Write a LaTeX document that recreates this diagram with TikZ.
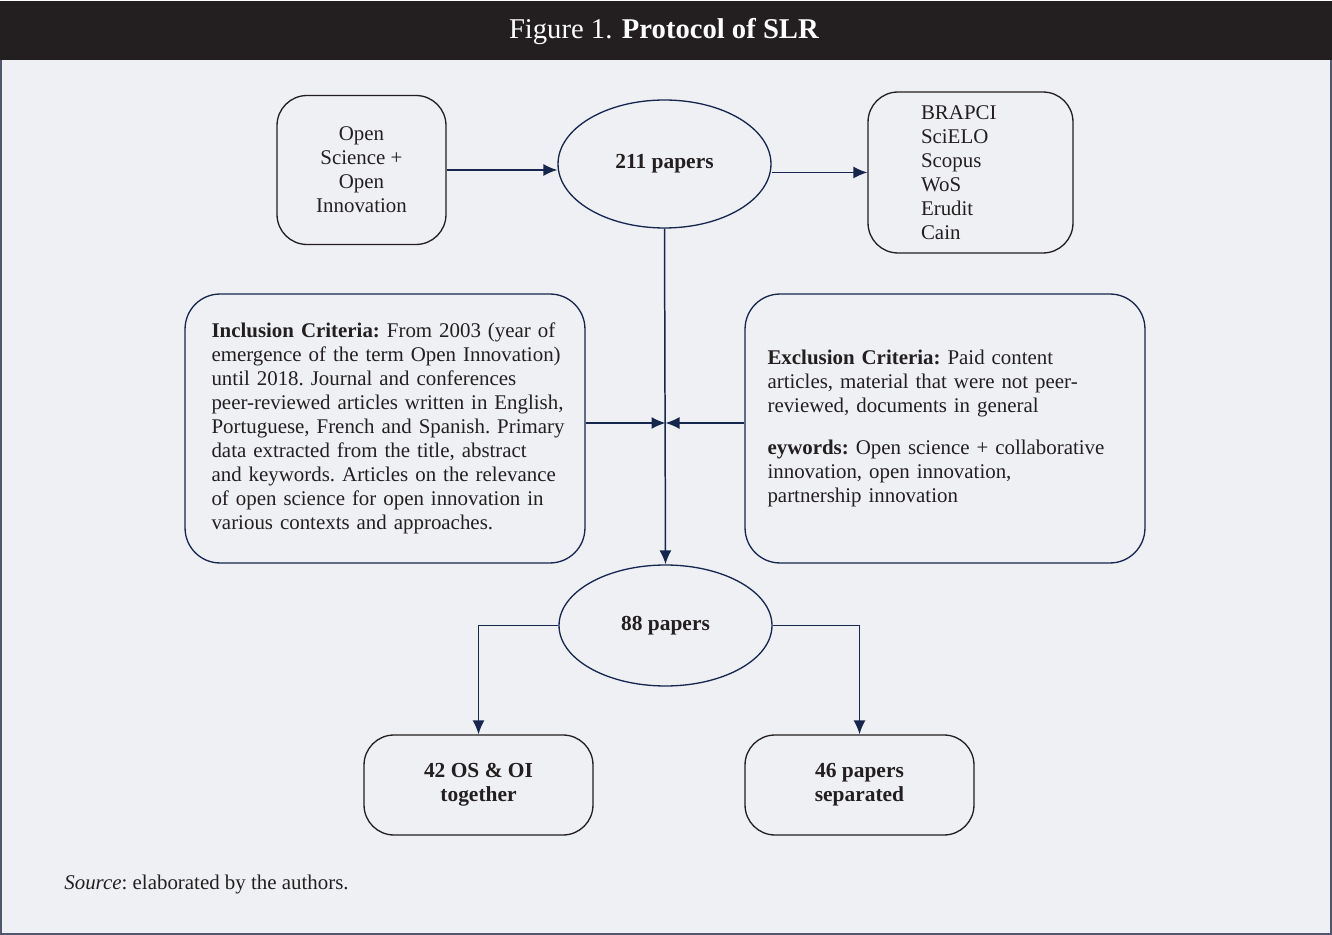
\documentclass[tikz,border=0pt]{standalone}
\usepackage{fontspec}
\setmainfont{Liberation Serif}
\usetikzlibrary{arrows.meta}
\usetikzlibrary{shapes.geometric}
\usetikzlibrary{positioning}
\definecolor{navy}{RGB}{22,38,77}
\definecolor{ink}{RGB}{35,31,32}
\definecolor{paper}{RGB}{239,240,244}
\definecolor{frame}{RGB}{80,86,110}
\newcommand{\bodyfont}{\fontsize{11.9}{13.66}\selectfont\frenchspacing}
\newcommand{\critpad}[1]{\parindent=0pt\leftskip=#1\relax}
\tikzset{>={Latex[length=2.8mm,width=2.4mm]}}
\tikzset{
    roundbox/.style={draw=ink, line width=0.75pt, rounded corners=0.6cm, inner sep=0pt, align=center},
    critbox/.style={draw=navy, line width=0.75pt, rounded corners=0.7cm, minimum width=8cm, minimum height=5.38cm, text width=7.5cm, inner sep=0pt},
    count/.style={ellipse, draw=navy, line width=0.75pt, minimum width=4.26cm, inner sep=0pt, font=\fontsize{12.2}{14}\selectfont\bfseries},
    flow/.style={->, navy, line width=0.85pt},
}

\begin{document}
\begin{tikzpicture}[x=0.02cm, y=-0.02cm, font=\bodyfont, text=ink] % SLR protocol
	\useasboundingbox (0,0) rectangle (1332,935);
	\fill[paper] (1,60) rectangle (1331,934);
	\draw[frame, line width=0.6pt] (1,60) -- (1,934) -- (1331,934) -- (1331,60);
	\fill[ink] (0,1) rectangle (1332,60);
	\node[text=white, font=\fontsize{16.3}{19}\selectfont] (title) at (664,32) {Figure 1. \textbf{Protocol of SLR}};

	\node[roundbox, minimum width=3.38cm, minimum height=2.98cm] (open) at (361.5,170) {Open\\Science +\\Open\\Innovation};
	\node[count, minimum height=2.56cm] (p211) at (664.5,164) {211 papers};
	\node[roundbox, minimum width=4.1cm, minimum height=3.22cm, text width=1.98cm, align=left] (bases) at (970.5,172.5) {BRAPCI\\SciELO\\Scopus\\WoS\\Erudit\\Cain};

	\node[critbox] (incl) at (385,428.5) {\critpad{0.28cm}\textbf{Inclusion Criteria:} From 2003 (year of\\emergence of the term Open Innovation)\\until 2018. Journal and conferences\\peer-reviewed articles written in English,\\Portuguese, French and Spanish. Primary\\data extracted from the title, abstract\\and keywords. Articles on the relevance\\of open science for open innovation in\\various contexts and approaches.\par};
	\node[critbox] (excl) at (945,428.5) {\critpad{0.2cm}\textbf{Exclusion Criteria:} Paid content\\articles, material that were not peer-\\reviewed, documents in general\\[0.36cm]\textbf{eywords:} Open science + collaborative\\innovation, open innovation,\\partnership innovation\par};

	\node[count, minimum height=2.42cm] (p88) at (665.5,625.5) {88 papers};
	\node[roundbox, minimum width=4.58cm, minimum height=2cm, font=\fontsize{12.2}{13.66}\selectfont\bfseries] (os) at (478.5,785) {42 OS \& OI\\together};
	\node[roundbox, minimum width=4.58cm, minimum height=2cm, font=\fontsize{12.2}{13.66}\selectfont\bfseries] (sep) at (859.5,785) {46 papers\\separated};

	\node[anchor=base west, inner sep=0pt] (source) at (64,889) {\textit{Source}: elaborated by the authors.};

	\coordinate (meet) at (665.5,423);
	\draw[flow] (open.east) -- (open.east -| p211.west);
	\draw[flow] (bases.west -| p211.east) -- (bases.west);
	\draw[flow] (p211.south) -- (p88.north);
	\draw[flow] (incl.east |- meet) -- (meet);
	\draw[flow] (excl.west |- meet) -- (meet);
	\draw[flow] (p88.west) -| (os.north);
	\draw[flow] (p88.east) -| (sep.north);
\end{tikzpicture}
\end{document}
